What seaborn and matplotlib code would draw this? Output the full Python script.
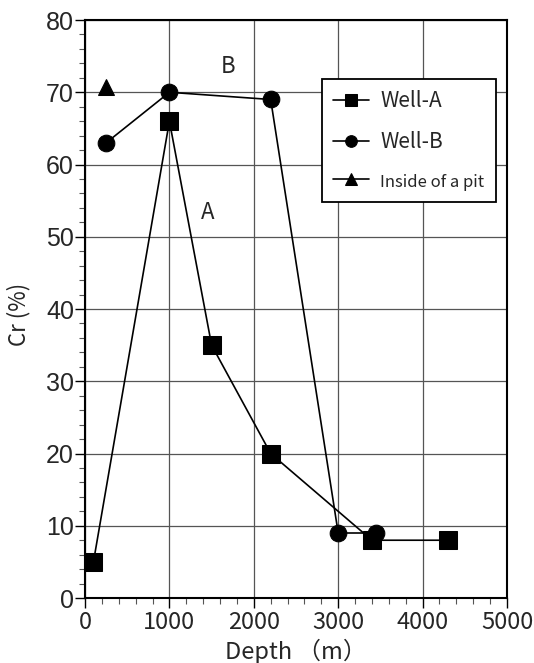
import matplotlib
matplotlib.use("Agg")
import matplotlib.pyplot as plt
import seaborn as sns
from matplotlib.ticker import MultipleLocator

# Data
well_a_depth = [100, 1000, 1500, 2200, 3400, 4300]
well_a_cr = [5, 66, 35, 20, 8, 8]
well_b_depth = [250, 1000, 2200, 3000, 3450]
well_b_cr = [63, 70, 69, 9, 9]
pit_depth = [250]
pit_cr = [70.7]
x_ticks = [0, 1000, 2000, 3000, 4000, 5000]
y_ticks = [0, 10, 20, 30, 40, 50, 60, 70, 80]

sns.set_theme(style="white")
plt.rcParams['font.family'] = ['Noto Sans CJK JP', 'DejaVu Sans']

fig = plt.figure(figsize=(5.34, 6.63), dpi=100)
ax = fig.add_axes([0.1592, 0.098, 0.7902, 0.8718])

ax.grid(True, which='major', color='#555555', linewidth=0.9)
ax.set_axisbelow(True)

sns.lineplot(x=well_a_depth, y=well_a_cr, ax=ax, color='black', marker='s',
             markersize=13, linewidth=1.2, sort=False, estimator=None,
             markeredgecolor='black', label='Well-A')
sns.lineplot(x=well_b_depth, y=well_b_cr, ax=ax, color='black', marker='o',
             markersize=12, linewidth=1.2, sort=False, estimator=None,
             markeredgecolor='black', label='Well-B')
sns.lineplot(x=pit_depth, y=pit_cr, ax=ax, color='black', marker='^',
             markersize=12, linewidth=1.2, sort=False, estimator=None,
             markeredgecolor='black', label='Inside of a pit')

ax.text(1695, 73.6, 'B', fontsize=16, ha='center', va='center')
ax.text(1457, 53.4, 'A', fontsize=16, ha='center', va='center')

ax.set_xlim(0, 5000)
ax.set_ylim(0, 80)
ax.set_xticks(x_ticks)
ax.set_yticks(y_ticks)
ax.xaxis.set_minor_locator(MultipleLocator(200))
ax.yaxis.set_minor_locator(MultipleLocator(2))
ax.tick_params(axis='both', which='major', direction='out', length=7, width=1, color='black',
               bottom=True, left=True, top=False, right=False)
ax.tick_params(axis='both', which='minor', direction='out', length=4, width=0.8, color='#555555',
               bottom=True, left=True, top=False, right=False)
for lab in ax.get_yticklabels():
    lab.set_fontfamily('Liberation Sans')
    lab.set_fontsize(18)
for lab in ax.get_xticklabels():
    lab.set_fontsize(17)
ax.tick_params(axis='y', pad=1)
ax.tick_params(axis='x', pad=2)

for s in ax.spines.values():
    s.set_color('black')
    s.set_linewidth(1.5)

ax.set_xlabel('Depth （m）', fontsize=17)
ax.xaxis.label.set_va('center')
ax.xaxis.set_label_coords(0.5, -0.092)
ax.set_ylabel('Cr (%)', fontsize=16)
ax.yaxis.label.set_va('center')
ax.yaxis.set_label_coords(-0.157, 0.49)

leg = ax.legend(loc='upper left', bbox_to_anchor=(0.5616, 0.898), borderaxespad=0,
                frameon=True, fancybox=False, edgecolor='black', framealpha=1, fontsize=15,
                handlelength=1.7, markerscale=0.7, borderpad=0.55, labelspacing=0.9,
                handletextpad=0.55)
leg.get_frame().set_linewidth(1.3)
for t in leg.get_texts():
    if t.get_text().startswith('Inside'):
        t.set_fontsize(12)

fig.savefig('out.png', dpi=100)
